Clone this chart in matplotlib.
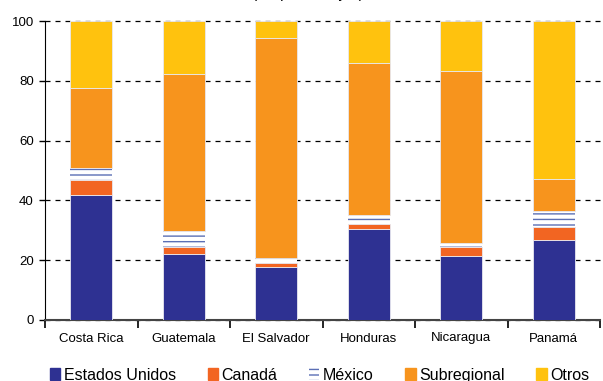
import matplotlib
import matplotlib.pyplot as plt
from matplotlib.patches import Patch
import numpy as np

matplotlib.use("Agg")

plt.rcParams["font.family"] = ["Liberation Sans", "DejaVu Sans"]
plt.rcParams["hatch.linewidth"] = 1.0

countries = ["Costa Rica", "Guatemala", "El Salvador", "Honduras", "Nicaragua", "Panamá"]
series_names = ["Estados Unidos", "Canadá", "México", "Subregional", "Otros"]

estados_unidos = [41.7, 22.1, 17.7, 30.3, 21.4, 26.7]
canada = [5.2, 2.3, 1.5, 1.7, 3.0, 4.4]
mexico = [3.9, 5.3, 1.4, 3.0, 1.5, 5.2]
subregional = [26.9, 52.6, 73.6, 51.0, 57.4, 10.7]
otros = [22.3, 17.7, 5.8, 14.0, 16.7, 53.0]

colors = ["#2e3192", "#f26522", "#5b6fb5", "#f7941d", "#ffc20e"]

fig = plt.figure(figsize=(6.03, 3.81), dpi=100)
ax = fig.add_axes([45 / 603, 61 / 381, 555 / 603, 299 / 381])

x = np.arange(len(countries))
width = 0.45
bottom = np.zeros(len(countries))
for name, vals, col in zip(series_names,
                           [estados_unidos, canada, mexico, subregional, otros],
                           colors):
    vals = np.array(vals)
    if name == "México":
        ax.bar(x, vals, width, bottom=bottom, color="white", edgecolor=col,
               hatch="---", linewidth=0, zorder=3)
    else:
        ax.bar(x, vals, width, bottom=bottom, color=col, edgecolor="#e8e8f0",
               linewidth=0.6, zorder=3)
    bottom += vals

ax.set_xlim(-0.5, len(countries) - 0.5)
ax.set_ylim(0, 100)
ax.set_yticks([0, 20, 40, 60, 80, 100])
ax.yaxis.grid(True, linestyle=(0, (4, 4)), color="black", linewidth=0.9, clip_on=False)
ax.set_axisbelow(True)
ax.tick_params(axis="y", labelsize=9.5, length=4, width=1, pad=4)

ax.set_xticks(x)
ax.set_xticklabels(countries, fontsize=9.5)
ax.set_xticks(np.arange(-0.5, len(countries)), minor=True)
ax.tick_params(axis="x", which="major", length=0, pad=9)
ax.tick_params(axis="x", which="minor", length=6, width=1.2, direction="out")

ax.spines["top"].set_visible(False)
ax.spines["right"].set_visible(False)
ax.spines["bottom"].set_color("#444444")
ax.spines["bottom"].set_linewidth(1.5)

fig.text(0.51, 1 + 2 / 381, "(En porcentajes)", ha="center", va="baseline", fontsize=11)

handles = []
for name, col in zip(series_names, colors):
    if name == "México":
        handles.append(Patch(facecolor="white", edgecolor=col, hatch="---", linewidth=0))
    else:
        handles.append(Patch(facecolor=col, edgecolor=col))
fig.legend(handles, series_names, loc="lower center", bbox_to_anchor=(0.53, -0.042),
           ncol=5, frameon=False, fontsize=11.5, handlelength=0.65, handleheight=0.7,
           handletextpad=0.2, columnspacing=2.0)

plt.savefig("out.png", dpi=100)
